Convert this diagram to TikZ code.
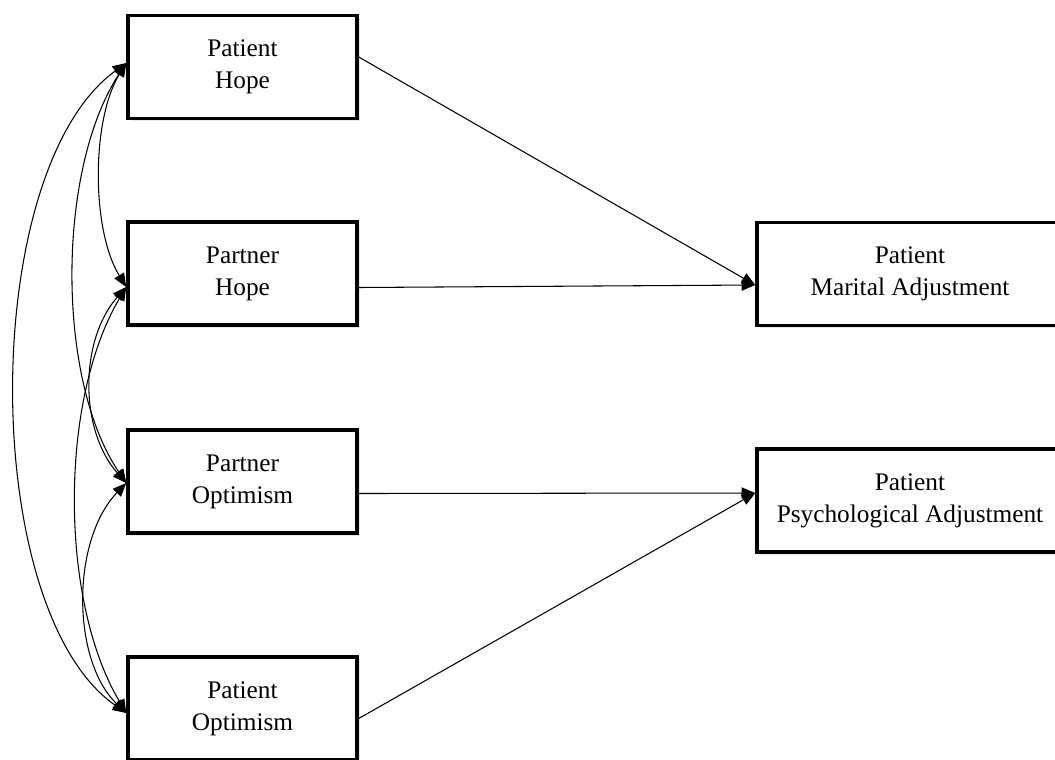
\documentclass[tikz,border=0pt]{standalone}
\usepackage{fontspec}
\setmainfont{Liberation Serif}
\usepackage{tikz}
\usetikzlibrary{positioning,arrows.meta,calc,shadows}

\begin{document}
\begin{tikzpicture}[x=0.025cm, y=-0.025cm,
    varbox/.style={draw, line width=2.4pt, fill=white, align=center,
      minimum width=5.725cm, minimum height=2.575cm, inner sep=0pt,
      font=\fontsize{18}{22.7}\selectfont,
      drop shadow={opacity=0.18, shadow xshift=2pt, shadow yshift=-2pt}},
    outbox/.style={varbox, minimum width=7.65cm},
    edgereg/.style={draw, line width=0.75pt, -{Triangle[length=3.4mm, width=2.8mm]}},
    edgecov/.style={draw, line width=0.75pt,
      {Triangle[length=3.4mm, width=2.8mm]}-{Triangle[length=3.4mm, width=2.8mm]}}]
  \useasboundingbox (0,0) rectangle (1055,759);
  \clip (0,0) rectangle (1055,759);
  % predictors
  \node[varbox] (phope)  at (242.5, 67)   {Patient\\Hope};
  \node[varbox] (pahope) at (242.5, 273.5) {Partner\\Hope};
  \node[varbox] (paopt)  at (242.5, 481.5) {Partner\\Optimism};
  \node[varbox] (popt)   at (242.5, 708.5) {Patient\\Optimism};
  % outcomes
  \node[outbox] (marital) at (910, 274)   {Patient\\Marital Adjustment};
  \node[outbox] (psych)   at (910, 500.5) {Patient\\Psychological Adjustment};
  % ends of the covariance arcs
  \coordinate (c1) at ($(phope.west)+(0,-4)$);
  \coordinate (c2) at ($(pahope.west)+(0,13.5)$);
  \coordinate (c3) at ($(paopt.west)+(0,1.5)$);
  \coordinate (c4) at ($(popt.west)+(0,4.5)$);
  \draw[edgecov] (c1) .. controls +(-35,57) and +(-35,-57) .. (c2);
  \draw[edgecov] (c1) .. controls +(-70,107) and +(-70,-103) .. (c3);
  \draw[edgecov] (c1) .. controls +(-148,107) and +(-148,-103) .. (c4);
  \draw[edgecov] (c2) .. controls +(-47,53) and +(-47,-53) .. (c3);
  \draw[edgecov] (c2) .. controls +(-67,113) and +(-67,-113) .. (c4);
  \draw[edgecov] (c3) .. controls +(-55,57) and +(-55,-53) .. (c4);
  % paths
  \coordinate (m) at ($(marital.west)+(0,11)$);
  \coordinate (p) at ($(psych.west)+(0,-7.5)$);
  \draw[edgereg] ($(phope.east)+(0,-10)$) -- (m);
  \draw[edgereg] ($(pahope.east)+(0,14)$) -- (m);
  \draw[edgereg] ($(paopt.east)+(0,12)$) -- (p);
  \draw[edgereg] ($(popt.east)+(0,10)$) -- (p);
\end{tikzpicture}
\end{document}
